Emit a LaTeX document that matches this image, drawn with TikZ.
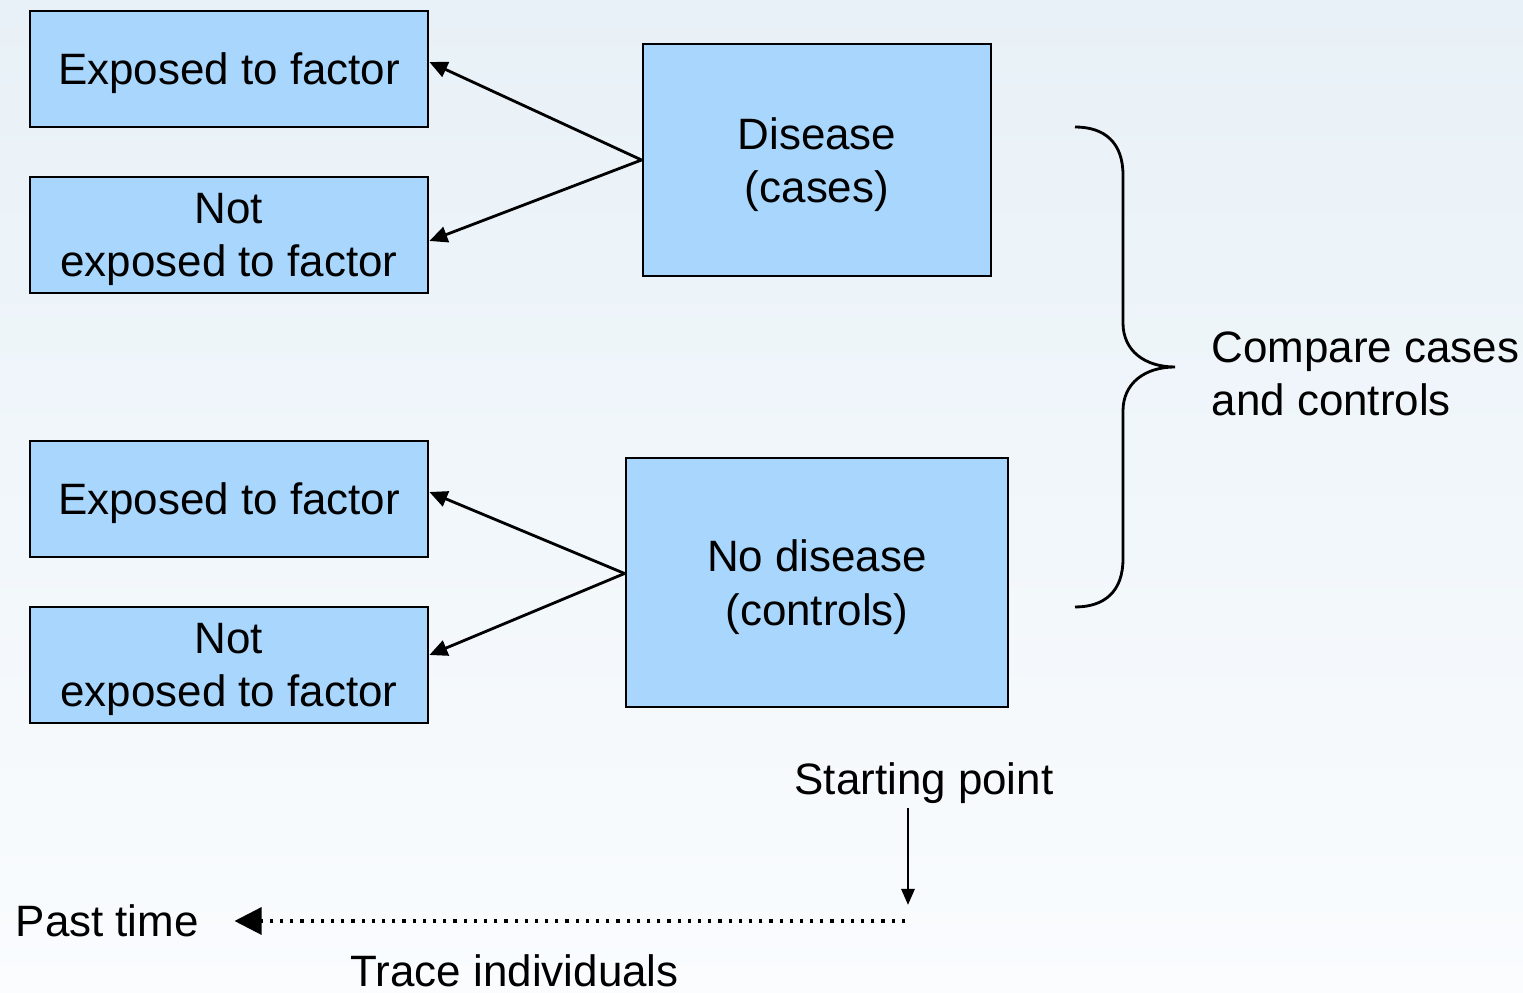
\documentclass[tikz,border=0pt]{standalone}
\usepackage{fontspec}
\setmainfont{Liberation Sans}
\usetikzlibrary{arrows.meta,positioning}

\definecolor{boxblue}{RGB}{168,214,252}
\definecolor{bgtop}{RGB}{232,241,247}
\definecolor{bgbottom}{RGB}{250,252,254}

\tikzset{
  factorbox/.style={draw=black, line width=0.8pt, fill=boxblue,
    minimum width=3.98cm, minimum height=1.16cm, align=center, inner sep=0pt, text depth=-0.8pt},
  groupbox/.style={draw=black, line width=0.8pt, fill=boxblue,
    align=center, inner sep=0pt, text depth=-0.8pt},
  link/.style={line width=0.8pt, -{Triangle[length=0.18cm, width=0.16cm]}},
  label/.style={align=left, inner sep=0pt},
}

\begin{document}
\begin{tikzpicture}[font=\fontsize{12.5}{15.3}\selectfont]
    % --- background ---
    \shade[top color=bgtop, bottom color=bgbottom] (0,0) rectangle (15.23,9.93);
    \useasboundingbox (0,0) rectangle (15.23,9.93);

    % --- exposure boxes (left column) ---
    \node[factorbox] (exp1) at (2.29,9.24) {Exposed to factor};
    \node[factorbox] (nexp1) at (2.29,7.58) {Not\\exposed to factor};
    \node[factorbox] (exp2) at (2.29,4.94) {Exposed to factor};
    \node[factorbox] (nexp2) at (2.29,3.28) {Not\\exposed to factor};

    % --- outcome groups ---
    \node[groupbox, minimum width=3.48cm, minimum height=2.32cm] (cases) at (8.17,8.33) {Disease\\(cases)};
    \node[groupbox, minimum width=3.82cm, minimum height=2.49cm] (controls) at (8.17,4.105) {No disease\\(controls)};

    % --- tracing back to exposure ---
    \draw[link] (cases.west) -- ([yshift=0.07cm]exp1.east);
    \draw[link] (cases.west) -- ([yshift=-0.06cm]nexp1.east);
    \draw[link] ([yshift=0.09cm]controls.west) -- ([yshift=0.07cm]exp2.east);
    \draw[link] ([yshift=0.09cm]controls.west) -- ([yshift=0.10cm]nexp2.east);

    % --- brace and comparison ---
    \draw[line width=0.8pt] (10.75,8.66) .. controls (11.05,8.66) and (11.23,8.50) .. (11.23,8.18)
        -- (11.23,6.70) .. controls (11.23,6.42) and (11.45,6.26) .. (11.75,6.26)
        .. controls (11.45,6.26) and (11.23,6.10) .. (11.23,5.82)
        -- (11.23,4.34) .. controls (11.23,4.02) and (11.05,3.86) .. (10.75,3.86);
    \node[label, anchor=base west] (compare) at (12.11,5.77) {Compare cases\\and controls};

    % --- time axis ---
    \node[label, anchor=base] (start) at (9.24,1.98) {Starting point};
    \coordinate (startTop) at (9.08,1.85);
    \coordinate (startBot) at (9.08,0.88);
    \draw[line width=0.8pt, -{Triangle[length=0.16cm, width=0.13cm]}] (startTop) -- (startBot);
    \coordinate (nowPt) at (9.05,0.72);
    \node[label, anchor=west] (past) at (0.15,0.72) {Past time};
    \draw[line width=0.9pt, dotted, -{Triangle[length=0.27cm, width=0.27cm]}] (nowPt) -- ([xshift=0.35cm]past.east);
    \node[label, anchor=base west] (trace) at (3.50,0.06) {Trace individuals};
\end{tikzpicture}
\end{document}
